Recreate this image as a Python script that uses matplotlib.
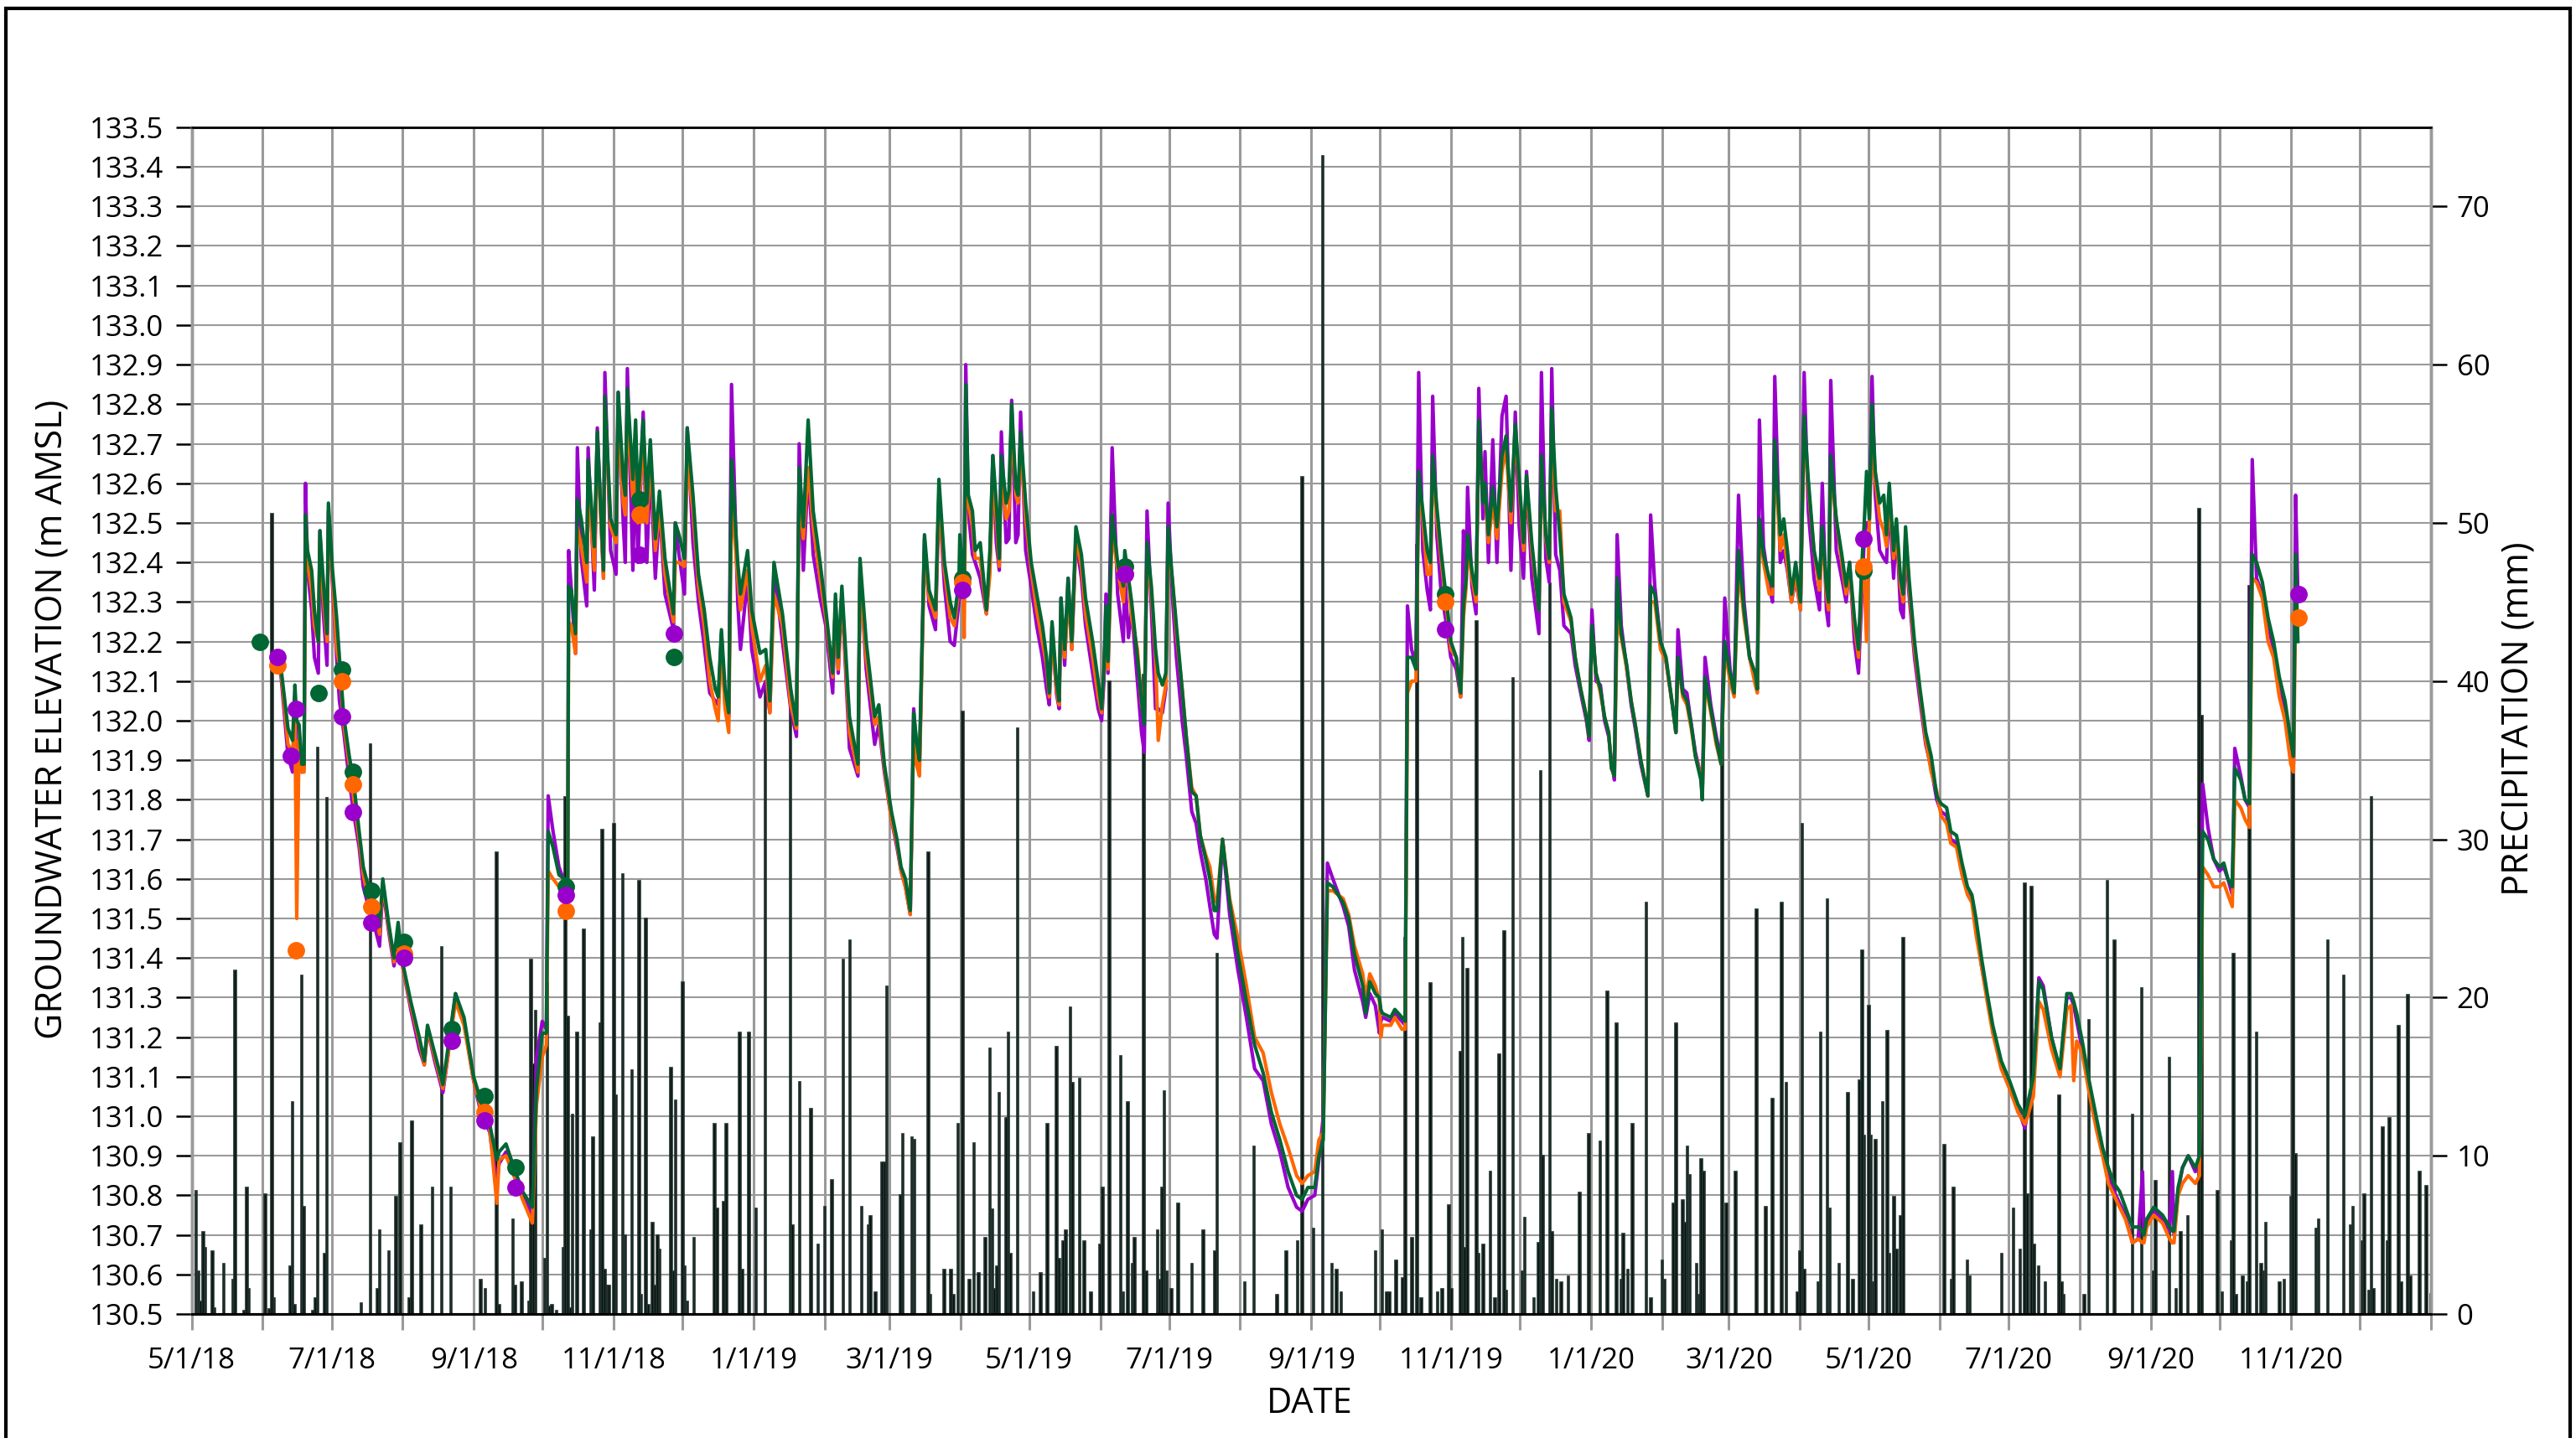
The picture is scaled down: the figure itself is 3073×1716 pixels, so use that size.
## Groundwater elevation (three loggers + manual readings) with daily precipitation
import matplotlib
matplotlib.use('Agg')
import matplotlib.pyplot as plt
import matplotlib.dates as mdates
from matplotlib.patches import Rectangle
from matplotlib.ticker import FormatStrFormatter
import numpy as np
import pandas as pd

plt.rcParams['font.family'] = ['Open Sans', 'DejaVu Sans']

START = pd.Timestamp('2018-05-01')

# daily precipitation (days after 5/1/18, mm)
rain_day = [0, 2, 3, 4, 5, 6, 9, 10, 14, 18, 19, 23, 24, 25, 32, 34, 35, 36, 43, 44, 45, 48, 49, 53, 54, 55, 58, 59,
            74, 78, 81, 82, 86, 89, 91, 95, 96, 100, 105, 109, 113, 126, 128, 133, 134, 140, 141, 144, 147, 148, 149,
            150, 154, 155, 156, 157, 159, 162, 163, 164,
            165, 166, 168, 171, 174, 175, 178, 179, 180, 181, 182, 184, 185, 188, 189, 192, 195, 196, 198, 199, 201,
            202, 203, 204, 209, 210, 211, 214, 215, 216, 219, 228, 229, 232, 233, 239, 240, 243, 246, 250, 261, 262,
            265, 270, 273, 276, 279, 284, 287, 292, 295, 296, 298, 301, 302, 303, 309, 310, 314, 315, 321, 322, 328,
            331, 332, 334, 336, 339, 341, 343, 346, 348, 349, 350, 351, 352, 355, 356, 357, 360, 367, 370, 373, 377,
            378, 380, 381, 383, 384, 387, 389, 392, 396, 397, 400, 405, 406, 408, 410, 411, 415, 416, 421, 422, 423,
            424, 425, 427, 430, 436, 441, 446, 447, 459, 463, 473, 477, 482, 484, 489, 493, 497, 499, 501,
            516, 519, 521, 522, 525, 528, 529, 532, 534, 536, 540, 543, 545, 548, 549, 553, 554, 555, 556, 560, 561,
            563, 566, 568, 570, 572, 573, 576, 580, 581, 585, 587, 588, 589, 592, 593, 595, 597, 600, 605, 609, 614,
            617, 621, 623, 624, 626, 628, 634, 636, 641, 642, 646, 647, 650, 651, 652, 653, 656, 657, 658, 659, 667,
            669, 673, 682, 686, 689, 693, 695, 700, 701, 702, 703, 709, 710, 713, 714, 718, 722, 724, 727, 728, 729,
            731, 732, 733, 734, 737, 739, 740, 742, 743, 745, 746, 764, 767, 768, 774, 775, 789, 794, 797, 799, 800,
            802, 803, 805, 808, 814, 815, 816, 825, 827, 835, 838,
            846, 850, 855, 856, 862, 865, 867, 870, 875, 876, 883, 885, 889, 890, 891, 894, 896, 897, 900, 902, 903,
            904, 910, 912, 915, 916, 917, 926, 927, 931, 938, 941, 942, 946, 947, 949, 950, 951, 955, 957, 958, 962,
            963, 966, 967, 971, 974, 976]
rain_mm = [1.2, 7.8, 2.7, 0.8, 5.2, 4.2, 4.0, 0.4, 3.2, 2.2, 21.7, 0.2, 8.0, 1.6, 7.6, 0.3, 50.6, 1.0, 3.0, 13.4, 0.6,
           21.4, 6.8, 0.2, 1.0, 35.8, 3.8, 32.6,
           0.7, 36.0, 1.6, 5.3, 4.0, 7.4, 10.8, 1.0, 12.2, 5.6, 8.0, 23.2, 8.0, 2.2, 1.6, 29.2, 0.6, 6.0, 1.8, 2.0,
           0.8, 22.4, 15.8, 19.2, 3.5, 20.9, 0.5, 0.6, 0.2, 4.2, 32.7, 18.8,
           0.4, 12.6, 17.8, 24.3, 5.3, 11.2, 18.4, 30.6, 2.8, 1.8, 1.8, 31.0, 13.8, 27.8, 5.0, 15.4, 27.4, 1.2, 25.0,
           0.6, 5.8, 1.8, 5.0, 4.1, 15.6, 2.7, 13.5, 21.0, 3.0, 0.8, 4.8, 12.0, 6.7, 7.1, 12.0, 17.8, 2.8, 17.8, 6.7,
           39.6, 39.2, 5.6, 14.7, 13.0, 4.4, 6.8, 8.5, 22.4, 23.6, 6.8, 5.6, 6.2, 1.4, 9.6, 9.6, 20.7, 7.5, 11.4,
           11.2, 11.0, 29.2, 1.2, 2.8,
           2.8, 1.2, 12.0, 38.1, 2.2, 10.8, 2.6, 4.8, 16.8, 6.6, 1.6, 3.0, 14.0, 12.4, 17.8, 3.8, 37.0, 1.4, 2.6,
           12.0, 16.9, 3.5, 4.6, 5.3, 19.4, 14.6, 14.9, 4.6, 1.4, 4.4, 8.0, 40.0, 16.3, 1.4, 13.4, 3.2, 4.8, 40.4,
           2.7, 5.3, 2.2, 8.0, 14.1, 2.7, 1.6, 7.0, 3.2, 5.3, 4.0, 22.8, 2.0, 10.6, 1.2, 4.0, 4.6, 52.9, 5.4, 73.2,
           3.2, 2.8, 1.4,
           4.0, 5.3, 1.4, 1.4, 3.4, 2.3, 23.8, 4.8, 48.6, 1.0, 20.9, 1.4, 1.6, 6.9, 1.6, 16.6, 23.8, 4.2, 21.8, 43.8,
           3.8, 4.4, 9.0, 1.0, 16.4, 24.2, 1.5, 40.2, 2.7, 6.1, 1.0, 4.5, 34.3, 10.0, 46.2, 5.2, 2.2, 2.0, 2.4, 7.7,
           11.4, 10.9, 20.4, 18.4, 2.2, 5.1, 2.8, 12.0, 26.0, 1.0, 3.4, 2.2, 7.0, 18.4, 7.2, 5.8, 10.6, 8.8, 3.2,
           1.2, 9.8, 9.0, 37.0, 7.0,
           9.0, 25.6, 6.8, 13.6, 26.0, 14.6, 1.4, 4.0, 31.0, 2.8, 2.0, 17.8, 26.2, 6.7, 3.2, 14.0, 2.2, 14.8, 23.0,
           11.3, 19.5, 11.3, 2.0, 11.0, 13.4, 17.9, 3.8, 7.4, 4.1, 6.2, 23.8, 10.7, 2.2, 8.0, 3.4, 2.4, 3.8, 6.7,
           4.1, 27.2, 7.6, 27.0, 4.4, 3.0, 2.0, 13.8, 2.0, 1.2, 1.2, 18.6, 27.4, 23.6,
           12.6, 20.6, 2.7, 8.4, 16.2, 1.6, 5.2, 6.2, 50.9, 37.8, 7.8, 1.4, 4.6, 22.8, 1.2, 2.4, 2.0, 46.0, 17.8,
           3.2, 2.7, 5.8, 2.0, 2.2, 7.4, 36.7, 10.1, 5.4, 6.0, 23.6, 21.4, 5.6, 6.8, 4.6, 7.6, 1.5, 32.7, 1.6, 11.8,
           4.6, 12.4, 18.2, 2.0, 20.2, 2.4, 9.0, 8.1, 1.3]

# logger series: (day, green, orange, purple) in m AMSL
gw_table = [
    (37.5, 132.16, 132.14, 132.16), (39, 132.13, 132.12, 132.11), (42, 131.98, 131.94, 131.91),
    (44, 131.95, 131.92, 131.87), (45, 132.09, 132.02, 132.06), (45.8, 132.00, 131.50, 131.93),
    (46.8, 131.99, 131.95, 131.94), (48, 131.89, 131.87, 131.87), (49, 131.89, 131.87, 131.88),
    (49.6, 132.52, 132.46, 132.60), (50.5, 132.43, 132.40, 132.38), (52.3, 132.38, 132.33, 132.28),
    (53.5, 132.28, 132.24, 132.16), (55.2, 132.20, 132.20, 132.12), (55.9, 132.48, 132.46, 132.48),
    (57.3, 132.36, 132.32, 132.28), (59, 132.22, 132.20, 132.14), (59.6, 132.55, 132.49, 132.53),
    (61.4, 132.38, 132.36, 132.34), (63.2, 132.26, 132.18, 132.16), (64.4, 132.16, 132.14, 132.05),
    (66.3, 132.01, 131.99, 131.97), (68.7, 131.91, 131.89, 131.85), (70.5, 131.85, 131.81, 131.77),
    (73, 131.72, 131.70, 131.68), (74.8, 131.63, 131.61, 131.58), (76.6, 131.59, 131.56, 131.54),
    (79.7, 131.54, 131.51, 131.48), (81.9, 131.48, 131.46, 131.43), (83.3, 131.60, 131.59, 131.58),
    (85.8, 131.49, 131.48, 131.47), (88.2, 131.40, 131.39, 131.38), (90, 131.49, 131.46, 131.45),
    (91.9, 131.39, 131.38, 131.38), (95.5, 131.29, 131.28, 131.27), (99.2, 131.20, 131.19, 131.17),
    (101.4, 131.14, 131.13, 131.13), (102.8, 131.23, 131.22, 131.22), (105.9, 131.16, 131.15, 131.14),
    (109.5, 131.08, 131.07, 131.06), (111.4, 131.16, 131.14, 131.14), (115, 131.31, 131.29, 131.31),
    (118.7, 131.25, 131.23, 131.24), (122.9, 131.10, 131.09, 131.09), (126, 131.04, 131.02, 131.01),
    (129.9, 130.98, 130.97, 130.96), (133, 130.89, 130.78, 130.83), (134, 130.91, 130.89, 130.88),
    (137, 130.93, 130.90, 130.91), (140.5, 130.87, 130.85, 130.85), (144.2, 130.81, 130.79, 130.80),
    (148.5, 130.77, 130.73, 130.75), (150.3, 131.07, 131.03, 131.15), (152.8, 131.21, 131.15, 131.24),
    (154.6, 131.21, 131.18, 131.22), (155.4, 131.72, 131.62, 131.81), (157.5, 131.68, 131.60, 131.72),
    (160.1, 131.61, 131.58, 131.63), (162.6, 131.60, 131.56, 131.59), (163.9, 131.59, 131.56, 131.58),
    (164.3, 132.34, 132.25, 132.43), (165.5, 132.33, 132.24, 132.33), (167.3, 132.22, 132.17, 132.17),
    (168.1, 132.56, 132.49, 132.69), (169.8, 132.51, 132.44, 132.41), (172.2, 132.40, 132.35, 132.29),
    (172.8, 132.66, 132.62, 132.69), (175.5, 132.44, 132.38, 132.33), (176.8, 132.73, 132.71, 132.74),
    (179.5, 132.38, 132.36, 132.36), (180.1, 132.82, 132.80, 132.88), (182.6, 132.51, 132.49, 132.43),
    (185, 132.47, 132.45, 132.37), (185.9, 132.83, 132.78, 132.83), (188.1, 132.61, 132.55, 132.50),
    (189, 132.57, 132.52, 132.40), (189.9, 132.84, 132.79, 132.89), (192.3, 132.61, 132.56, 132.38),
    (193.5, 132.76, 132.69, 132.67), (194.5, 132.55, 132.50, 132.40), (196.8, 132.76, 132.72, 132.78),
    (198.4, 132.55, 132.50, 132.40), (199.9, 132.71, 132.67, 132.65), (202.1, 132.46, 132.43, 132.36),
    (203.9, 132.58, 132.54, 132.54), (206.3, 132.41, 132.37, 132.32), (210, 132.27, 132.25, 132.23),
    (210.8, 132.50, 132.40, 132.50), (212.4, 132.47, 132.40, 132.42), (214.8, 132.41, 132.39, 132.32),
    (216, 132.74, 132.66, 132.74), (218.5, 132.57, 132.53, 132.45), (220.9, 132.37, 132.34, 132.30),
    (223.4, 132.28, 132.24, 132.19), (225.8, 132.16, 132.10, 132.07), (228.2, 132.08, 132.03, 132.05),
    (229.5, 132.06, 132.00, 132.04), (230.9, 132.23, 132.20, 132.22), (232.5, 132.08, 132.03, 132.04),
    (234.1, 132.02, 131.97, 132.01), (235.3, 132.66, 132.57, 132.85), (238, 132.40, 132.36, 132.30),
    (239.2, 132.32, 132.28, 132.18), (242.3, 132.43, 132.38, 132.36), (244.1, 132.28, 132.24, 132.18),
    (247.7, 132.17, 132.10, 132.06), (250.2, 132.18, 132.14, 132.10), (252, 132.05, 132.02, 132.02),
    (253.8, 132.40, 132.32, 132.39), (257.5, 132.27, 132.24, 132.20), (261.1, 132.08, 132.04, 132.03),
    (263.6, 131.99, 131.98, 131.96), (264.8, 132.64, 132.57, 132.70), (266.6, 132.49, 132.46, 132.38),
    (268.7, 132.76, 132.64, 132.63), (270.9, 132.53, 132.49, 132.42), (273.9, 132.40, 132.36, 132.31),
    (276.4, 132.28, 132.26, 132.24), (279.4, 132.12, 132.11, 132.07), (280.6, 132.32, 132.29, 132.30),
    (281.8, 132.16, 132.13, 132.12), (283.4, 132.34, 132.32, 132.32), (286.7, 132.01, 131.97, 131.93),
    (290.4, 131.89, 131.87, 131.86), (291.3, 132.41, 132.36, 132.39), (294, 132.20, 132.16, 132.13),
    (297.7, 132.01, 131.99, 131.94), (299.5, 132.04, 132.01, 131.99), (301.9, 131.89, 131.88, 131.87),
    (305, 131.77, 131.75, 131.75), (307.4, 131.70, 131.69, 131.68), (309.2, 131.63, 131.62, 131.62),
    (311.1, 131.60, 131.58, 131.58), (313.2, 131.52, 131.51, 131.51), (314.7, 132.02, 131.97, 132.03),
    (315.9, 131.95, 131.89, 131.93), (317.2, 131.90, 131.86, 131.88), (319.4, 132.47, 132.43, 132.46),
    (321.4, 132.33, 132.31, 132.29), (324.2, 132.28, 132.26, 132.23), (325.7, 132.61, 132.55, 132.57),
    (328.1, 132.40, 132.38, 132.34), (330.6, 132.30, 132.26, 132.20), (332.4, 132.26, 132.24, 132.19),
    (334.4, 132.35, 132.33, 132.30), (334.8, 132.47, 132.37, 132.33), (336, 132.37, 132.39, 132.34),
    (336.7, 132.35, 132.21, 132.32), (337.4, 132.85, 132.64, 132.90), (338.5, 132.57, 132.55, 132.53),
    (340.3, 132.53, 132.49, 132.42), (341.5, 132.43, 132.41, 132.40), (343.7, 132.45, 132.41, 132.36),
    (346.4, 132.28, 132.27, 132.27), (347.9, 132.43, 132.37, 132.40), (349.2, 132.67, 132.61, 132.67),
    (350.7, 132.55, 132.51, 132.45), (352, 132.41, 132.39, 132.38), (352.9, 132.67, 132.63, 132.73),
    (355, 132.55, 132.51, 132.45), (356.2, 132.58, 132.53, 132.46), (357.4, 132.80, 132.75, 132.81),
    (359.2, 132.59, 132.57, 132.45), (360.2, 132.57, 132.55, 132.47), (361.3, 132.73, 132.70, 132.78),
    (363.5, 132.55, 132.51, 132.43), (365.9, 132.40, 132.38, 132.34), (368.3, 132.32, 132.28, 132.24),
    (370.8, 132.24, 132.20, 132.16), (372.6, 132.16, 132.14, 132.08), (373.8, 132.07, 132.06, 132.04),
    (375, 132.25, 132.22, 132.24), (376.9, 132.10, 132.08, 132.07), (378.1, 132.05, 132.04, 132.03),
    (378.9, 132.31, 132.28, 132.31), (380.5, 132.18, 132.16, 132.14), (382, 132.36, 132.32, 132.36),
    (383.6, 132.20, 132.18, 132.18), (385.4, 132.49, 132.46, 132.46), (387.8, 132.42, 132.39, 132.36),
    (389.6, 132.31, 132.27, 132.24), (392.7, 132.20, 132.16, 132.12), (395.1, 132.10, 132.06, 132.03),
    (396.6, 132.03, 132.02, 132.00), (397.6, 132.13, 132.13, 132.10), (398.5, 132.29, 132.25, 132.32),
    (399.4, 132.15, 132.13, 132.12), (401.2, 132.52, 132.48, 132.69), (403.6, 132.40, 132.38, 132.32),
    (406.1, 132.34, 132.30, 132.20), (406.7, 132.43, 132.37, 132.37), (408.3, 132.36, 132.36, 132.21),
    (409.7, 132.30, 132.26, 132.28), (412.2, 132.16, 132.18, 132.10), (414, 132.05, 132.04, 131.97),
    (415.2, 131.99, 132.01, 131.92), (416.4, 132.45, 132.43, 132.53), (418.3, 132.34, 132.32, 132.28),
    (420.1, 132.18, 132.16, 132.03), (421.3, 132.12, 131.95, 132.03), (423.1, 132.09, 132.04, 132.02),
    (424.6, 132.12, 132.09, 132.08), (425.6, 132.49, 132.43, 132.55), (427.4, 132.36, 132.36, 132.32),
    (429.2, 132.24, 132.22, 132.16), (431.7, 132.08, 132.08, 132.00), (433.5, 131.96, 131.96, 131.91),
    (435.9, 131.82, 131.83, 131.77), (437.8, 131.81, 131.81, 131.74), (439.6, 131.71, 131.71, 131.67),
    (442, 131.65, 131.66, 131.60), (443.8, 131.60, 131.63, 131.53), (445.7, 131.52, 131.55, 131.46),
    (446.9, 131.52, 131.54, 131.45), (449.3, 131.70, 131.70, 131.70), (452.4, 131.54, 131.55, 131.51),
    (456, 131.41, 131.45, 131.37), (459.7, 131.29, 131.33, 131.25), (463.3, 131.18, 131.20, 131.12),
    (467, 131.11, 131.16, 131.09), (470.6, 131.01, 131.06, 130.98), (474.3, 130.94, 130.98, 130.91),
    (477.9, 130.86, 130.92, 130.82), (481.6, 130.80, 130.85, 130.77), (484, 130.79, 130.83, 130.76),
    (486.5, 130.82, 130.85, 130.79), (489.5, 130.82, 130.86, 130.80), (491.3, 130.90, 130.94, 130.89),
    (493.2, 130.94, 130.96, 131.00), (495, 131.59, 131.57, 131.64), (497.4, 131.58, 131.57, 131.60),
    (501.9, 131.54, 131.55, 131.53), (504.3, 131.50, 131.51, 131.48), (506.8, 131.41, 131.43, 131.37),
    (510.4, 131.33, 131.36, 131.29), (511.7, 131.26, 131.30, 131.25), (513.5, 131.34, 131.36, 131.31),
    (515.9, 131.31, 131.33, 131.28), (517.7, 131.30, 131.29, 131.21), (518.3, 131.27, 131.20, 131.24),
    (519, 131.26, 131.23, 131.25), (522.6, 131.25, 131.23, 131.24), (524.4, 131.27, 131.25, 131.26),
    (527.5, 131.25, 131.22, 131.24), (528.9, 131.24, 131.22, 131.23), (529.9, 132.16, 132.07, 132.29),
    (531.7, 132.16, 132.10, 132.18), (533.6, 132.13, 132.10, 132.14), (534.8, 132.63, 132.57, 132.88),
    (536.6, 132.53, 132.51, 132.43), (538.5, 132.43, 132.37, 132.33), (539.9, 132.40, 132.37, 132.28),
    (540.9, 132.67, 132.64, 132.82), (542.7, 132.54, 132.51, 132.47), (544.5, 132.43, 132.41, 132.33),
    (547, 132.30, 132.28, 132.24), (548.8, 132.20, 132.18, 132.16), (551.2, 132.16, 132.16, 132.13),
    (553.1, 132.07, 132.06, 132.06), (554.3, 132.29, 132.26, 132.48), (555.5, 132.36, 132.34, 132.37),
    (556.1, 132.47, 132.45, 132.59), (558, 132.38, 132.36, 132.34), (559.8, 132.32, 132.30, 132.27),
    (561, 132.76, 132.73, 132.84), (562.8, 132.55, 132.57, 132.51), (563.7, 132.60, 132.58, 132.68),
    (565.2, 132.47, 132.45, 132.40), (567.1, 132.59, 132.55, 132.71), (568.9, 132.49, 132.46, 132.40),
    (571.1, 132.67, 132.63, 132.77), (572.9, 132.72, 132.69, 132.82), (575, 132.53, 132.50, 132.38),
    (576.9, 132.75, 132.74, 132.78), (578.6, 132.61, 132.59, 132.49), (580.5, 132.45, 132.43, 132.36),
    (581.8, 132.62, 132.60, 132.63), (584.1, 132.45, 132.43, 132.36), (587.2, 132.28, 132.28, 132.22),
    (588.3, 132.67, 132.65, 132.88), (590.2, 132.47, 132.46, 132.41), (591.7, 132.41, 132.40, 132.35),
    (592.8, 132.79, 132.74, 132.89), (594.5, 132.59, 132.53, 132.42), (596.3, 132.47, 132.53, 132.38),
    (598.1, 132.32, 132.30, 132.24), (601.2, 132.26, 132.25, 132.22), (603, 132.16, 132.16, 132.14),
    (605.4, 132.08, 132.08, 132.07), (607.9, 132.01, 132.01, 132.00), (609.1, 131.96, 131.96, 131.95),
    (610.3, 132.24, 132.23, 132.28), (612.1, 132.12, 132.12, 132.10), (614, 132.08, 132.07, 132.09),
    (615.8, 132.01, 132.01, 132.00), (617.6, 131.97, 131.97, 131.96), (618.8, 131.88, 131.88, 131.90),
    (620.1, 131.86, 131.86, 131.85), (621.3, 132.36, 132.26, 132.47), (623.1, 132.22, 132.21, 132.24),
    (625.5, 132.14, 132.13, 132.13), (627.4, 132.05, 132.05, 132.04), (629.2, 131.99, 131.99, 131.98),
    (631.6, 131.90, 131.90, 131.89), (634.7, 131.81, 131.81, 131.81), (635.9, 132.34, 132.30, 132.52),
    (637.7, 132.32, 132.30, 132.34), (640.2, 132.20, 132.18, 132.20), (642.6, 132.16, 132.15, 132.15),
    (645.6, 132.03, 132.03, 132.03), (646.9, 131.97, 131.97, 131.97), (647.8, 132.16, 132.15, 132.23),
    (649.9, 132.07, 132.06, 132.08), (651.7, 132.05, 132.04, 132.07), (653.6, 131.99, 131.98, 131.99),
    (655.4, 131.91, 131.91, 131.92), (657.8, 131.85, 131.86, 131.86), (658.4, 131.80, 131.81, 131.81),
    (659.6, 132.11, 132.10, 132.16), (662.1, 132.03, 132.02, 132.04), (664.5, 131.95, 131.94, 131.96),
    (666.6, 131.89, 131.89, 131.90), (668.2, 132.20, 132.18, 132.31), (670.5, 132.12, 132.10, 132.13),
    (672.3, 132.07, 132.06, 132.07), (674.2, 132.43, 132.39, 132.57), (676.6, 132.28, 132.26, 132.30),
    (679, 132.16, 132.16, 132.16), (681.5, 132.12, 132.09, 132.11), (682.4, 132.08, 132.07, 132.08),
    (683.3, 132.51, 132.49, 132.76), (685.1, 132.42, 132.40, 132.44), (687.6, 132.36, 132.32, 132.34),
    (689, 132.34, 132.32, 132.30), (690, 132.71, 132.67, 132.87), (692.4, 132.47, 132.43, 132.40),
    (693.9, 132.51, 132.47, 132.43), (695.5, 132.43, 132.39, 132.38), (697.3, 132.32, 132.30, 132.30),
    (699.1, 132.40, 132.37, 132.36), (701.2, 132.30, 132.28, 132.28), (702.8, 132.77, 132.75, 132.88),
    (704.6, 132.61, 132.59, 132.53), (707.1, 132.43, 132.43, 132.36), (709.5, 132.36, 132.33, 132.28),
    (710.7, 132.49, 132.47, 132.60), (712.5, 132.34, 132.32, 132.28), (713.4, 132.30, 132.28, 132.24),
    (714.4, 132.67, 132.63, 132.86), (716.8, 132.51, 132.51, 132.43), (719.2, 132.42, 132.40, 132.36),
    (721.1, 132.34, 132.32, 132.30), (722.6, 132.40, 132.38, 132.40), (724.7, 132.26, 132.24, 132.20),
    (726.5, 132.18, 132.16, 132.12), (727.8, 132.38, 132.36, 132.30), (729, 132.50, 132.36, 132.46),
    (730, 132.63, 132.20, 132.50), (731.2, 132.51, 132.50, 132.50), (732.4, 132.80, 132.69, 132.87),
    (733.8, 132.63, 132.61, 132.57), (735.7, 132.55, 132.51, 132.43), (737.5, 132.57, 132.48, 132.41),
    (738.7, 132.47, 132.44, 132.40), (739.9, 132.60, 132.57, 132.56), (741.8, 132.43, 132.41, 132.36),
    (743, 132.51, 132.47, 132.50), (744.8, 132.36, 132.34, 132.28), (746, 132.32, 132.30, 132.26),
    (747, 132.49, 132.47, 132.45), (748.5, 132.36, 132.34, 132.32), (750.9, 132.20, 132.18, 132.16),
    (753.3, 132.08, 132.07, 132.05), (755.8, 131.97, 131.95, 131.94), (758.2, 131.91, 131.87, 131.88),
    (760.6, 131.81, 131.82, 131.80), (762.5, 131.79, 131.76, 131.77), (764.9, 131.78, 131.74, 131.76),
    (766.7, 131.72, 131.69, 131.70), (769.2, 131.71, 131.68, 131.69), (771.6, 131.64, 131.61, 131.62),
    (774, 131.58, 131.56, 131.57), (775.9, 131.56, 131.54, 131.55), (777.7, 131.50, 131.46, 131.48),
    (780.1, 131.40, 131.38, 131.38), (782.6, 131.31, 131.29, 131.30), (785, 131.23, 131.21, 131.22),
    (788.7, 131.14, 131.12, 131.13), (792.3, 131.09, 131.07, 131.08), (796, 131.03, 131.01, 131.02),
    (799, 131.00, 130.98, 130.97), (800.2, 131.03, 131.00, 131.01), (802.7, 131.10, 131.05, 131.09),
    (805.1, 131.34, 131.29, 131.35), (807, 131.32, 131.27, 131.33), (810.6, 131.20, 131.17, 131.20),
    (814.3, 131.12, 131.10, 131.11), (817.3, 131.31, 131.27, 131.30), (819.1, 131.31, 131.28, 131.30),
    (820.3, 131.29, 131.09, 131.28), (821.6, 131.26, 131.19, 131.24), (824, 131.19, 131.16, 131.17),
    (827, 131.09, 131.06, 131.07), (830.4, 130.99, 130.96, 130.97), (832.9, 130.92, 130.90, 130.91),
    (835.4, 130.87, 130.83, 130.85), (837.9, 130.83, 130.80, 130.81), (840.3, 130.81, 130.77, 130.78),
    (842.8, 130.77, 130.74, 130.75), (845.9, 130.72, 130.68, 130.68), (848.4, 130.72, 130.69, 130.69),
    (850.3, 130.71, 130.68, 130.86), (850.9, 130.70, 130.68, 130.70), (852.1, 130.74, 130.72, 130.73),
    (855.2, 130.77, 130.75, 130.76), (859, 130.75, 130.73, 130.74), (862.1, 130.72, 130.69, 130.71),
    (863.3, 130.71, 130.68, 130.86), (864, 130.71, 130.68, 130.70), (865.8, 130.82, 130.80, 130.81),
    (867.7, 130.87, 130.83, 130.87), (870.2, 130.90, 130.85, 130.90), (873.3, 130.87, 130.83, 130.86),
    (875.1, 130.90, 130.85, 130.88), (876.5, 131.72, 131.63, 131.84), (878.8, 131.70, 131.61, 131.73),
    (881.3, 131.65, 131.58, 131.65), (883.8, 131.63, 131.58, 131.62), (885.7, 131.64, 131.59, 131.63),
    (887.5, 131.60, 131.56, 131.60), (889.4, 131.58, 131.53, 131.56), (890.5, 131.88, 131.80, 131.93),
    (893.1, 131.85, 131.78, 131.86), (895, 131.80, 131.75, 131.80), (896.9, 131.79, 131.73, 131.78),
    (898.1, 132.42, 132.36, 132.66), (900, 132.40, 132.35, 132.36), (902.5, 132.35, 132.31, 132.32),
    (905, 132.26, 132.20, 132.24), (907.4, 132.20, 132.16, 132.18), (909.9, 132.11, 132.06, 132.09),
    (912.4, 132.05, 132.00, 132.03), (914.9, 131.95, 131.89, 131.93), (916.1, 131.91, 131.87, 131.89),
    (917, 132.42, 132.29, 132.57), (918, 132.20, 132.24, 132.32),
]
gw_day = [r[0] for r in gw_table]
gw_green = [r[1] for r in gw_table]
gw_orange = [r[2] for r in gw_table]
gw_purple = [r[3] for r in gw_table]

# manual measurements (day, elevation)
man_green_day = [29.6, 55.4, 65.4, 70.4, 78.5, 92.5, 113.4, 127.6, 141.3, 163, 195.4, 210.2, 335.8, 406.7, 546.4, 728.6]
man_green = [132.20, 132.07, 132.13, 131.87, 131.57, 131.44, 131.22, 131.05, 130.87, 131.58, 132.56, 132.16,
             132.36, 132.39, 132.32, 132.38]
man_orange_day = [37.4, 45.5, 65.4, 70.4, 78.5, 92.5, 127.6, 163, 195.4, 335.8, 406.7, 546.4, 728.6, 918.1]
man_orange = [132.14, 131.42, 132.10, 131.84, 131.53, 131.41, 131.01, 131.52, 132.52, 132.35, 132.37, 132.30,
              132.39, 132.26]
man_purple_day = [37.4, 43.4, 45.5, 65.4, 70.4, 78.5, 92.5, 113.4, 127.6, 141.3, 163, 195.4, 210.2, 335.8, 406.7,
                  546.4, 728.6, 918.1]
man_purple = [132.16, 131.91, 132.03, 132.01, 131.77, 131.49, 131.40, 131.19, 130.99, 130.82, 131.56, 132.42,
              132.22, 132.33, 132.37, 132.23, 132.46, 132.32]


def to_dates(days):
    return START + pd.to_timedelta(np.array(days, dtype=float), unit='D')


def date_label(v, pos):
    d = mdates.num2date(v)
    if d.year > 2020:
        return ''
    return f'{d.month}/{d.day}/{d.year % 100}'


GREEN = '#006633'
ORANGE = '#ff6600'
PURPLE = '#9900cc'
GRID = '#9a9a9a'

fig = plt.figure(figsize=(30.73, 17.16), dpi=100)
ax = fig.add_axes([0.0744, 0.0862, 0.8693, 0.8253])
ax2 = ax.twinx()   # precipitation
ax3 = ax.twinx()   # groundwater lines on top of the bars

# precipitation bars
ax2.bar(to_dates(rain_day), rain_mm, width=0.95, color='#07110e', edgecolor='#22332f', linewidth=1.2, zorder=2)
ax2.set_ylim(0, 75)
ax2.set_yticks(range(0, 71, 10))

# groundwater lines
ax3.plot(to_dates(gw_day), gw_purple, color=PURPLE, lw=3.0, zorder=3)
ax3.plot(to_dates(gw_day), gw_orange, color=ORANGE, lw=3.0, zorder=4)
ax3.plot(to_dates(gw_day), gw_green, color=GREEN, lw=3.0, zorder=5)
ax3.plot(to_dates(man_green_day), man_green, 'o', color=GREEN, ms=14, zorder=6)
ax3.plot(to_dates(man_orange_day), man_orange, 'o', color=ORANGE, ms=14, zorder=7)
ax3.plot(to_dates(man_purple_day), man_purple, 'o', color=PURPLE, ms=14, zorder=8)
ax3.set_ylim(130.5, 133.5)
ax3.axis('off')

ax.set_ylim(130.5, 133.5)
ax.set_yticks(np.arange(130.5, 133.55, 0.1))
ax.yaxis.set_major_formatter(FormatStrFormatter('%.1f'))
ax.set_xlim(START, pd.Timestamp('2021-01-01'))
ax.xaxis.set_major_locator(mdates.MonthLocator(bymonth=[1, 3, 5, 7, 9, 11]))
ax.xaxis.set_minor_locator(mdates.MonthLocator())
ax.xaxis.set_major_formatter(plt.FuncFormatter(date_label))

# grid
ax.grid(True, axis='y', which='major', color=GRID, lw=1.5)
ax.grid(True, axis='x', which='both', color=GRID, lw=2.2)
ax.set_axisbelow(True)

# ticks
ax.tick_params(axis='y', direction='out', length=14, width=1.8, color='black', pad=10, labelsize=25)
ax.tick_params(axis='x', which='both', direction='out', length=14, width=2.2, color=GRID, pad=14, labelsize=25)
ax2.tick_params(axis='y', direction='out', length=14, width=1.8, color='black', pad=8, labelsize=25)

# spines
for a in (ax, ax2):
    a.spines['left'].set_color(GRID)
    a.spines['right'].set_color(GRID)
    a.spines['left'].set_linewidth(2.5)
    a.spines['right'].set_linewidth(2.5)
    a.spines['top'].set_color('black')
    a.spines['bottom'].set_color('black')
    a.spines['top'].set_linewidth(1.8)
    a.spines['bottom'].set_linewidth(2.2)

# axis titles
fig.text(0.0205, 0.50, 'GROUNDWATER ELEVATION (m AMSL)', rotation=90, ha='center', va='center', fontsize=31)
fig.text(0.978, 0.50, 'PRECIPITATION (mm)', rotation=90, ha='center', va='center', fontsize=31)
fig.text(0.5085, 0.024, 'DATE', ha='center', va='center', fontsize=30)

# frame around the figure
fig.add_artist(Rectangle((0.0023, -0.01), 0.9954, 1.004, transform=fig.transFigure,
                         fill=False, ec='black', lw=3))

fig.savefig('out.png', dpi=100)
